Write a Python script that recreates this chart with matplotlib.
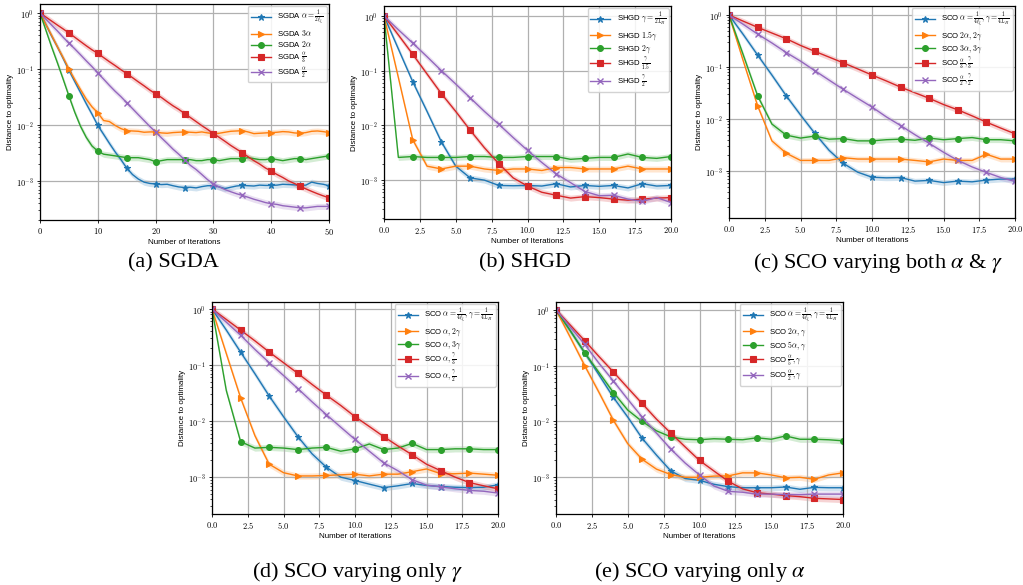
import numpy as np
import matplotlib
matplotlib.use("Agg")
import matplotlib.pyplot as plt
from matplotlib.ticker import FuncFormatter, FixedLocator

plt.rcParams['font.family'] = ['Liberation Sans', 'DejaVu Sans']
plt.rcParams['mathtext.fontset'] = 'cm'

# ---- data ----
iters_a = list(range(51))
iters_b = list(range(21))

sgda_base = [1, 0.63, 0.39, 0.25, 0.155, 0.095, 0.060, 0.038, 0.024, 0.0155, 0.0098, 0.0068, 0.0047, 0.0033,
             0.0024, 0.0017, 0.0013, 0.00108, 0.00095, 0.0009, 0.00088, 0.00086, 0.00087, 0.00082, 0.00078,
             0.00076, 0.00077, 0.00075, 0.00079, 0.00082, 0.00082, 0.00078, 0.00073, 0.00077, 0.00081, 0.00083,
             0.00082, 0.00081, 0.00084, 0.00083, 0.00083, 0.00084, 0.00087, 0.00086, 0.00085, 0.00083, 0.00084,
             0.00095, 0.0009, 0.00087, 0.00082]
sgda_3a = [1, 0.63, 0.4, 0.25, 0.16, 0.1, 0.065, 0.043, 0.029, 0.021, 0.0165, 0.012, 0.0115, 0.0098, 0.0086,
           0.0079, 0.0078, 0.0077, 0.0074, 0.0075, 0.0075, 0.0072, 0.0071, 0.0073, 0.0074, 0.0075, 0.0074, 0.0073,
           0.0075, 0.0072, 0.007, 0.0071, 0.0074, 0.0077, 0.0078, 0.0079, 0.0075, 0.007, 0.0071, 0.0072, 0.0073,
           0.0074, 0.0076, 0.0075, 0.0072, 0.0071, 0.0073, 0.0077, 0.0078, 0.0076, 0.0073]
sgda_2a = [1, 0.5, 0.25, 0.13, 0.066, 0.033, 0.017, 0.0095, 0.006, 0.0042, 0.0034, 0.003, 0.0029, 0.0028, 0.0027,
           0.0026, 0.0026, 0.0026, 0.0025, 0.0024, 0.0022, 0.0023, 0.0024, 0.0024, 0.0024, 0.0024, 0.0024, 0.0023,
           0.0023, 0.0024, 0.0024, 0.0023, 0.0024, 0.0025, 0.0025, 0.0025, 0.0026, 0.0025, 0.0024, 0.0024, 0.0025,
           0.0024, 0.0023, 0.0024, 0.0025, 0.0025, 0.0024, 0.0025, 0.0026, 0.0027, 0.0028]
sgda_a3 = [1, 0.85, 0.72, 0.61, 0.52, 0.44, 0.37, 0.31, 0.26, 0.22, 0.19, 0.16, 0.135, 0.115, 0.097, 0.083, 0.07,
           0.059, 0.05, 0.042, 0.036, 0.031, 0.026, 0.022, 0.019, 0.016, 0.0136, 0.0115, 0.0097, 0.0083, 0.007,
           0.006, 0.0051, 0.0043, 0.0037, 0.0032, 0.0027, 0.0023, 0.002, 0.0017, 0.0015, 0.0013, 0.00115, 0.001,
           0.0009, 0.0008, 0.00072, 0.00065, 0.00059, 0.00054, 0.0005]
sgda_a2 = [1, 0.78, 0.61, 0.48, 0.37, 0.29, 0.23, 0.18, 0.14, 0.11, 0.085, 0.066, 0.051, 0.04, 0.032, 0.025,
           0.0196, 0.0153, 0.012, 0.0094, 0.0075, 0.0059, 0.0047, 0.0037, 0.003, 0.0024, 0.0019, 0.0016, 0.0013,
           0.00105, 0.00088, 0.00078, 0.0007, 0.00064, 0.00059, 0.00055, 0.00051, 0.00047, 0.00044, 0.00041,
           0.00039, 0.00038, 0.00036, 0.00035, 0.00034, 0.00033, 0.00033, 0.00034, 0.00035, 0.00035, 0.00035]

shgd_base = [1, 0.25, 0.063, 0.018, 0.005, 0.0018, 0.0011, 0.001, 0.0008, 0.00079, 0.0008, 0.00078, 0.00086,
             0.00075, 0.0008, 0.00077, 0.0008, 0.00072, 0.00086, 0.00078, 0.0008]
shgd_15g = [1, 0.075, 0.0055, 0.0018, 0.0016, 0.0018, 0.0018, 0.0016, 0.0015, 0.0016, 0.0016, 0.0015, 0.0017,
            0.0017, 0.0016, 0.0016, 0.0016, 0.0018, 0.0016, 0.0016, 0.0016]
shgd_2g = [1, 0.0026, 0.0027, 0.0026, 0.0026, 0.0026, 0.0027, 0.0027, 0.0026, 0.0026, 0.0027, 0.0027, 0.0027,
           0.0024, 0.0025, 0.0026, 0.0026, 0.003, 0.0026, 0.0025, 0.0027]
shgd_g15 = [1, 0.45, 0.2, 0.087, 0.038, 0.018, 0.0082, 0.0039, 0.002, 0.0011, 0.00078, 0.0006, 0.00053, 0.00047,
            0.0005, 0.00048, 0.00045, 0.00043, 0.00045, 0.00047, 0.00048]
shgd_g2 = [1, 0.56, 0.32, 0.18, 0.1, 0.057, 0.032, 0.018, 0.0105, 0.006, 0.0035, 0.0021, 0.0013, 0.0009, 0.00062,
           0.00052, 0.00053, 0.00045, 0.00041, 0.00048, 0.00039]

sco_base_c = [1, 0.42, 0.17, 0.07, 0.028, 0.012, 0.0053, 0.0025, 0.0014, 0.00095, 0.00076, 0.00074, 0.00075,
              0.00064, 0.00066, 0.0006, 0.00064, 0.00062, 0.00067, 0.0007, 0.0007]
sco_2a2g = [1, 0.13, 0.018, 0.0038, 0.0022, 0.0016, 0.0016, 0.0016, 0.0018, 0.0017, 0.0017, 0.0017, 0.0017,
            0.0016, 0.0015, 0.0017, 0.0016, 0.0016, 0.0021, 0.0017, 0.0017]
sco_3a3g = [1, 0.17, 0.028, 0.008, 0.0049, 0.0043, 0.0047, 0.0041, 0.0042, 0.0038, 0.0038, 0.004, 0.0041,
            0.0039, 0.0043, 0.004, 0.0042, 0.0044, 0.004, 0.004, 0.0038]
sco_a3g3 = [1, 0.76, 0.58, 0.45, 0.35, 0.26, 0.2, 0.155, 0.12, 0.092, 0.07, 0.054, 0.041, 0.032, 0.025, 0.019,
            0.015, 0.0115, 0.0087, 0.0067, 0.0052]
sco_a2g2 = [1, 0.66, 0.43, 0.29, 0.19, 0.13, 0.085, 0.056, 0.037, 0.025, 0.017, 0.011, 0.0075, 0.005, 0.0034,
            0.0023, 0.0016, 0.0012, 0.00094, 0.00075, 0.00063]

sco_base_d = [1, 0.42, 0.17, 0.07, 0.028, 0.012, 0.0053, 0.0026, 0.0015, 0.001, 0.00087, 0.00075, 0.00065,
              0.0007, 0.00077, 0.00071, 0.00068, 0.00066, 0.00065, 0.00066, 0.00073]
sco_a_2g = [1, 0.16, 0.026, 0.0055, 0.0017, 0.0012, 0.00105, 0.00105, 0.00107, 0.0011, 0.00113, 0.00105,
            0.00113, 0.00113, 0.00125, 0.0014, 0.00115, 0.00115, 0.00118, 0.00113, 0.00108]
sco_a_3g = [1, 0.035, 0.0043, 0.0033, 0.0034, 0.0033, 0.0031, 0.0033, 0.0034, 0.0029, 0.0032, 0.0039, 0.0031,
            0.0033, 0.004, 0.0031, 0.0031, 0.0032, 0.0032, 0.0031, 0.0031]
sco_a_g3 = [1, 0.65, 0.42, 0.27, 0.17, 0.11, 0.071, 0.045, 0.029, 0.019, 0.012, 0.008, 0.0053, 0.0036, 0.0025,
            0.0017, 0.0013, 0.001, 0.0008, 0.0007, 0.00062]
sco_a_g2 = [1, 0.58, 0.34, 0.19, 0.11, 0.065, 0.038, 0.022, 0.013, 0.0078, 0.0047, 0.0029, 0.0018, 0.0013,
            0.0009, 0.00072, 0.00067, 0.00062, 0.00058, 0.00056, 0.00052]

sco_base_e = [1, 0.42, 0.17, 0.068, 0.027, 0.012, 0.005, 0.0025, 0.0013, 0.00095, 0.00088, 0.00075, 0.00068,
              0.00065, 0.00065, 0.00065, 0.00067, 0.00061, 0.00066, 0.00065, 0.00065]
sco_2a_g = [1, 0.32, 0.1, 0.033, 0.0105, 0.004, 0.0021, 0.0014, 0.00112, 0.001, 0.001, 0.00105, 0.00106, 0.0012,
            0.0012, 0.0011, 0.00098, 0.001, 0.00092, 0.0011, 0.0012]
sco_5a_g = [1, 0.42, 0.17, 0.075, 0.033, 0.016, 0.01, 0.0068, 0.0053, 0.0048, 0.0047, 0.0049, 0.0048, 0.0047,
            0.0051, 0.0048, 0.0055, 0.0048, 0.0048, 0.0047, 0.0045]
sco_a5_g = [1, 0.53, 0.28, 0.145, 0.077, 0.04, 0.021, 0.011, 0.0062, 0.0035, 0.002, 0.0013, 0.00085, 0.00062,
            0.00053, 0.0005, 0.00047, 0.00045, 0.00042, 0.00041, 0.0004]
sco_a2_g = [1, 0.49, 0.24, 0.11, 0.053, 0.025, 0.012, 0.0062, 0.0032, 0.0018, 0.0011, 0.0007, 0.00056, 0.00054,
            0.0005, 0.0005, 0.00049, 0.00049, 0.0005, 0.0005, 0.0005]

base_sco = r'SCO $\alpha=\frac{1}{4\ell_\xi},\gamma=\frac{1}{4L_H}$'
labels_a = [r'SGDA $\alpha=\frac{1}{2\ell_\xi}$', r'SGDA $3\alpha$', r'SGDA $2\alpha$',
            r'SGDA $\frac{\alpha}{3}$', r'SGDA $\frac{\alpha}{2}$']
labels_b = [r'SHGD $\gamma=\frac{1}{2L_H}$', r'SHGD $1.5\gamma$', r'SHGD $2\gamma$',
            r'SHGD $\frac{\gamma}{1.5}$', r'SHGD $\frac{\gamma}{2}$']
labels_c = [base_sco, r'SCO $2\alpha,2\gamma$', r'SCO $3\alpha,3\gamma$',
            r'SCO $\frac{\alpha}{3},\frac{\gamma}{3}$', r'SCO $\frac{\alpha}{2},\frac{\gamma}{2}$']
labels_d = [base_sco, r'SCO $\alpha,2\gamma$', r'SCO $\alpha,3\gamma$',
            r'SCO $\alpha,\frac{\gamma}{3}$', r'SCO $\alpha,\frac{\gamma}{2}$']
labels_e = [base_sco, r'SCO $2\alpha,\gamma$', r'SCO $5\alpha,\gamma$',
            r'SCO $\frac{\alpha}{5},\gamma$', r'SCO $\frac{\alpha}{2},\gamma$']

captions = [r'(a) SGDA', r'(b) SHGD', r'(c) SCO varying both $\alpha$ & $\gamma$',
            r'(d) SCO varying only $\gamma$', r'(e) SCO varying only $\alpha$']

colors = ['#1f77b4', '#ff7f0e', '#2ca02c', '#d62728', '#9467bd']
markers = ['*', '>', 'o', 's', 'x']

W, H = 1023, 585


def px_axes(fig, left, right, top, bottom):
    return fig.add_axes([left / W, 1 - bottom / H, (right - left) / W, (bottom - top) / H])


def draw_panel(ax, x, series, labels, every, ylim, xticks, xfmt):
    for vals, lab, c, m in zip(series, labels, colors, markers):
        v = np.array(vals)
        ax.fill_between(x, v * 0.88, v * 1.13, color=c, alpha=0.2, lw=0)
        ax.plot(x, v, color=c, marker=m, markevery=every, ms=4.2 if m != '*' else 5,
                mew=1 if m == 'x' else 0.8, lw=1.0, label=lab)
    ax.set_yscale('log')
    ax.set_ylim(*ylim)
    ax.set_xlim(x[0], x[-1])
    ax.xaxis.set_major_locator(FixedLocator(xticks))
    ax.xaxis.set_major_formatter(FuncFormatter(lambda v, p: ('$%' + xfmt + '$') % v))
    ax.yaxis.set_major_formatter(FuncFormatter(lambda v, p: r'$10^{%d}$' % round(np.log10(v))))
    ax.grid(True, which='major', color='#b0b0b0', lw=0.9)
    ax.tick_params(labelsize=6, length=2.5, width=0.6, pad=2)
    ax.tick_params(which='minor', length=1.5, width=0.5)
    for s in ax.spines.values():
        s.set_linewidth(0.9)
    ax.set_xlabel('Number of Iterations', fontsize=5.8, labelpad=1)
    ax.set_ylabel('Distance to optimality', fontsize=5.8, labelpad=1)
    ax.legend(loc='upper right', fontsize=5.6, handlelength=2.6, borderpad=0.35,
              labelspacing=0.12, framealpha=0.85, borderaxespad=0.3)


fig = plt.figure(figsize=(W / 100, H / 100), dpi=100)

ax_a = px_axes(fig, 40, 329, 4, 220)
ax_b = px_axes(fig, 384, 671, 6, 219)
ax_c = px_axes(fig, 729, 1015, 6, 218)
ax_d = px_axes(fig, 212, 498, 302, 514)
ax_e = px_axes(fig, 556, 843, 302, 514)

tick20 = [0, 2.5, 5, 7.5, 10, 12.5, 15, 17.5, 20]
draw_panel(ax_a, iters_a, [sgda_base, sgda_3a, sgda_2a, sgda_a3, sgda_a2], labels_a, 5,
           (2.0e-4, 1.45), [0, 10, 20, 30, 40, 50], '.0f')
draw_panel(ax_b, iters_b, [shgd_base, shgd_15g, shgd_2g, shgd_g15, shgd_g2], labels_b, 2,
           (1.95e-4, 1.52), tick20, '.1f')
draw_panel(ax_c, iters_b, [sco_base_c, sco_2a2g, sco_3a3g, sco_a3g3, sco_a2g2], labels_c, 2,
           (1.25e-4, 1.49), tick20, '.1f')
draw_panel(ax_d, iters_b, [sco_base_d, sco_a_2g, sco_a_3g, sco_a_g3, sco_a_g2], labels_d, 2,
           (2.2e-4, 1.33), tick20, '.1f')
draw_panel(ax_e, iters_b, [sco_base_e, sco_2a_g, sco_5a_g, sco_a5_g, sco_a2_g], labels_e, 2,
           (2.2e-4, 1.38), tick20, '.1f')

cap_pos = [(173, 263), (525, 263), (878, 263), (357, 572), (700, 572)]
for (cx, cy), txt in zip(cap_pos, captions):
    fig.text(cx / W, 1 - cy / H, txt, ha='center', va='center', fontsize=16,
             family='Liberation Serif', math_fontfamily='stix')

fig.savefig('out.png', dpi=100)
